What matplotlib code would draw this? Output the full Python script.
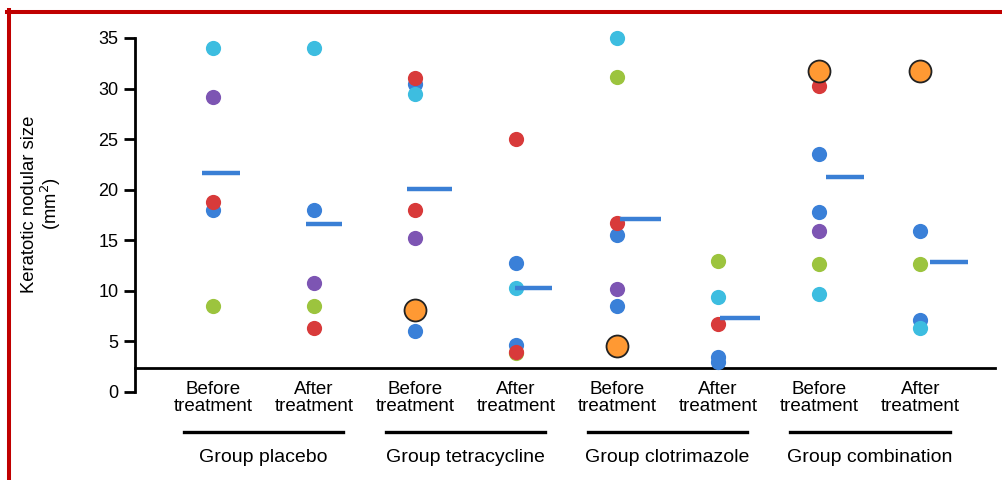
import matplotlib
matplotlib.use("Agg")
import matplotlib.pyplot as plt
from matplotlib.lines import Line2D
import matplotlib.transforms as mtransforms

plt.rcParams['font.family'] = ['Liberation Sans', 'DejaVu Sans']

# categories
conditions = ["Before\ntreatment", "After\ntreatment"] * 4
groups = ["Group placebo", "Group tetracycline", "Group clotrimazole", "Group combination"]

# individual values, by colour (pos = index into conditions)
blue_pos = [0, 1, 2, 2, 3, 3, 4, 4, 5, 5, 6, 6, 7, 7]
blue_val = [18.0, 18.0, 30.5, 6.0, 12.8, 4.6, 15.5, 8.5, 3.5, 3.0, 23.5, 17.8, 15.9, 7.1]
purple_pos = [0, 1, 2, 4, 6]
purple_val = [29.2, 10.8, 15.2, 10.2, 15.9]
green_pos = [0, 1, 3, 4, 5, 6, 7]
green_val = [8.5, 8.5, 3.9, 31.1, 13.0, 12.7, 12.7]
cyan_pos = [0, 1, 2, 3, 4, 5, 6, 7]
cyan_val = [34.0, 34.0, 29.5, 10.3, 35.0, 9.4, 9.7, 6.3]
red_pos = [0, 1, 2, 2, 3, 3, 4, 5, 6]
red_val = [18.8, 6.3, 31.0, 18.0, 25.0, 4.0, 16.7, 6.7, 30.3]
orange_pos = [2, 4, 6, 7]
orange_val = [8.1, 4.5, 31.7, 31.7]

# group means
means = [21.7, 16.6, 20.1, 10.3, 17.1, 7.3, 21.3, 12.9]

# layout of the mean bars (offset from each column, in column units)
mean_x0 = [-0.11, -0.08, -0.08, -0.01, 0.03, 0.02, 0.07, 0.10]
mean_x1 = [0.27, 0.28, 0.37, 0.36, 0.43, 0.41, 0.44, 0.47]

fig = plt.figure(figsize=(10.02, 4.8), dpi=100)
ax = fig.add_axes([135 / 1002, 88 / 480, 860 / 1002, 354 / 480])

dot = dict(s=120, linewidths=0, zorder=3, clip_on=False)
ax.scatter(blue_pos, blue_val, color='#3a80d8', **dot)
ax.scatter(purple_pos, purple_val, color='#7d55b3', **dot)
ax.scatter(green_pos, green_val, color='#9cc43e', **dot)
ax.scatter(cyan_pos, cyan_val, color='#3dbde0', **dot)
ax.scatter(red_pos, red_val, color='#d83a3a', **dot)
ax.scatter(orange_pos, orange_val, s=250, color='#ff9933', edgecolors='#222222',
           linewidths=1.3, zorder=4, clip_on=False)

for i, m in enumerate(means):
    ax.plot([i + mean_x0[i], i + mean_x1[i]], [m, m], color='#3a7fd5', lw=3.2,
            solid_capstyle='butt', zorder=5)

ax.set_xlim(-0.772, 7.74)
ax.set_ylim(0, 35)
ax.set_yticks(range(0, 36, 5))
ax.tick_params(axis='y', length=8, width=2, labelsize=13, pad=4)
ax.spines['left'].set_linewidth(2)
ax.spines['right'].set_visible(False)
ax.spines['top'].set_visible(False)
ax.spines['bottom'].set_position(('data', 2.37))
ax.spines['bottom'].set_linewidth(2)
ax.set_xticks(range(len(conditions)))
ax.set_xticklabels(conditions, fontsize=13.5, linespacing=1.05)
ax.tick_params(axis='x', length=0, pad=9)

# group underlines and names
trans = mtransforms.blended_transform_factory(ax.transData, ax.transAxes)
for g, name in enumerate(groups):
    c = 2 * g + 0.5
    ax.plot([c - 0.79, c + 0.79], [-0.113, -0.113], color='black', lw=2.4,
            transform=trans, clip_on=False)
    ax.text(c, -0.185, name, transform=trans, ha='center', va='center', fontsize=14)

fig.text(42 / 1002, 1 - 204 / 480, "Keratotic nodular size\n(mm$^2$)", rotation=90,
         ha='center', va='center', multialignment='center', fontsize=13.3,
         linespacing=1.0)

# red frame
fig.add_artist(Line2D([8.5 / 1002, 8.5 / 1002], [0, 1 - 10 / 480], color='#c00000',
                      lw=2.9, transform=fig.transFigure))
fig.add_artist(Line2D([7 / 1002, 1], [1 - 12 / 480, 1 - 12 / 480], color='#c00000',
                      lw=2.9, transform=fig.transFigure))

fig.savefig("out.png", dpi=100)
